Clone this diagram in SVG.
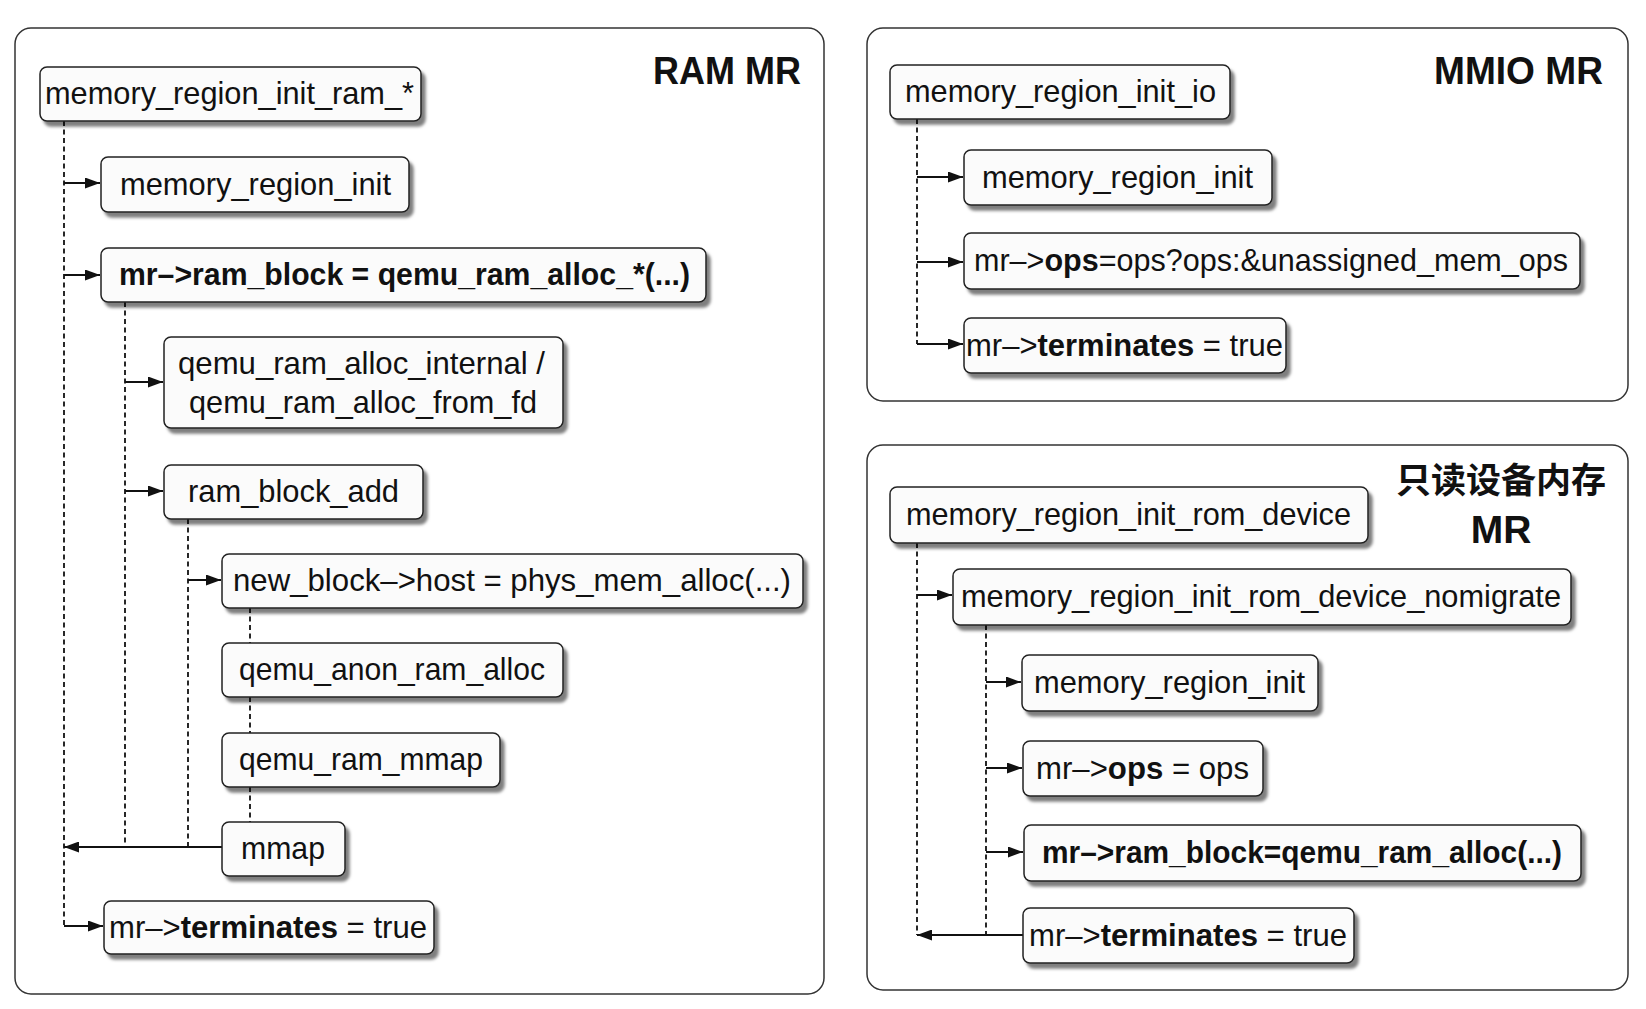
<svg xmlns="http://www.w3.org/2000/svg" width="1646" height="1009" viewBox="0 0 1646 1009">
<style>
.panel{fill:#ffffff;stroke:#333;stroke-width:1.5}
.box{fill:#fbfbfb;stroke:#222;stroke-width:1.5}
.t{font-family:"Liberation Sans",Arial,sans-serif;font-size:32px;fill:#111}
.b{font-weight:bold}
.title{font-family:"Liberation Sans",Arial,sans-serif;font-size:39px;font-weight:bold;fill:#111}
.cjk{font-family:"Liberation Sans","Noto Sans CJK SC",sans-serif;font-size:35px;font-weight:bold;fill:#111}
.dash{fill:none;stroke:#111;stroke-width:1.8;stroke-dasharray:5 3.5}
.arr{fill:none;stroke:#111;stroke-width:2.2;marker-end:url(#ah)}
</style>
<defs>
<marker id="ah" viewBox="0 0 15 11" refX="15" refY="5.5" markerWidth="15" markerHeight="11" markerUnits="userSpaceOnUse" orient="auto">
<path d="M0,0 L15,5.5 L0,11 z" fill="#111"/>
</marker>
<filter id="sh" x="-5%" y="-15%" width="115%" height="145%">
<feDropShadow dx="4" dy="5" stdDeviation="1.8" flood-color="#000" flood-opacity="0.5"/>
</filter>
</defs>
<rect width="1646" height="1009" fill="#ffffff"/>

<g id="panel-ram">
<rect class="panel" x="15" y="28" width="809" height="966" rx="16"/>
<text class="title" x="653" y="84" textLength="148" lengthAdjust="spacingAndGlyphs">RAM MR</text>
</g>
<g id="panel-mmio">
<rect class="panel" x="867" y="28" width="761" height="373" rx="16"/>
<text class="title" x="1434" y="84" textLength="169" lengthAdjust="spacingAndGlyphs">MMIO MR</text>
</g>
<g id="panel-rom">
<rect class="panel" x="867" y="445" width="761" height="545" rx="16"/>
<text class="cjk" x="1396" y="493" textLength="210" lengthAdjust="spacingAndGlyphs">只读设备内存</text>
<text class="title" x="1501" y="543" text-anchor="middle">MR</text>
</g>

<g id="connectors">
<!-- RAM -->
<path class="dash" d="M64,121 V926"/>
<path class="arr" d="M64,183 H100"/>
<path class="arr" d="M64,275 H100"/>
<path class="arr" d="M64,926 H103"/>
<path class="dash" d="M125,302 V847"/>
<path class="arr" d="M125,382 H163"/>
<path class="arr" d="M125,491 H163"/>
<path class="dash" d="M188,519 V847"/>
<path class="arr" d="M188,580 H221"/>
<path class="dash" d="M250,608 V643 M250,697 V733 M250,787 V822"/>
<path class="arr" d="M222,847 H64"/>
<!-- MMIO -->
<path class="dash" d="M917,119 V344"/>
<path class="arr" d="M917,177 H963"/>
<path class="arr" d="M917,262 H963"/>
<path class="arr" d="M917,344 H963"/>
<!-- ROM -->
<path class="dash" d="M917,543 V935"/>
<path class="arr" d="M917,595 H952"/>
<path class="dash" d="M986,625 V935"/>
<path class="arr" d="M986,682 H1021"/>
<path class="arr" d="M986,768 H1022"/>
<path class="arr" d="M986,852 H1023"/>
<path class="arr" d="M1023,935 H917"/>
</g>

<g id="n-init-ram"><rect class="box" filter="url(#sh)" x="40" y="67" width="381" height="54" rx="7"/><text class="t" x="45" y="104" textLength="369" lengthAdjust="spacingAndGlyphs">memory_region_init_ram_*</text></g>
<g id="n-ram-init"><rect class="box" filter="url(#sh)" x="101" y="157" width="308" height="55" rx="7"/><text class="t" x="120" y="195" textLength="271" lengthAdjust="spacingAndGlyphs">memory_region_init</text></g>
<g id="n-ram-block"><rect class="box" filter="url(#sh)" x="101" y="248" width="605" height="54" rx="7"/><text class="t b" x="119" y="285" textLength="571" lengthAdjust="spacingAndGlyphs">mr–&gt;ram_block = qemu_ram_alloc_*(...)</text></g>
<g id="n-alloc-internal"><rect class="box" filter="url(#sh)" x="164" y="337" width="399" height="91" rx="7"/><text class="t" x="178" y="374" textLength="367" lengthAdjust="spacingAndGlyphs">qemu_ram_alloc_internal /</text><text class="t" x="189" y="413" textLength="348" lengthAdjust="spacingAndGlyphs">qemu_ram_alloc_from_fd</text></g>
<g id="n-block-add"><rect class="box" filter="url(#sh)" x="164" y="465" width="259" height="54" rx="7"/><text class="t" x="188" y="502" textLength="211" lengthAdjust="spacingAndGlyphs">ram_block_add</text></g>
<g id="n-host"><rect class="box" filter="url(#sh)" x="222" y="554" width="581" height="54" rx="7"/><text class="t" x="233" y="591" textLength="558" lengthAdjust="spacingAndGlyphs">new_block–&gt;host = phys_mem_alloc(...)</text></g>
<g id="n-anon"><rect class="box" filter="url(#sh)" x="222" y="643" width="341" height="54" rx="7"/><text class="t" x="239" y="680" textLength="306" lengthAdjust="spacingAndGlyphs">qemu_anon_ram_alloc</text></g>
<g id="n-ram-mmap"><rect class="box" filter="url(#sh)" x="222" y="733" width="278" height="54" rx="7"/><text class="t" x="239" y="770" textLength="244" lengthAdjust="spacingAndGlyphs">qemu_ram_mmap</text></g>
<g id="n-mmap"><rect class="box" filter="url(#sh)" x="222" y="822" width="123" height="54" rx="7"/><text class="t" x="241" y="859" textLength="84" lengthAdjust="spacingAndGlyphs">mmap</text></g>
<g id="n-ram-term"><rect class="box" filter="url(#sh)" x="104" y="901" width="330" height="53" rx="7"/><text class="t" x="109" y="938" textLength="318" lengthAdjust="spacingAndGlyphs">mr–&gt;<tspan class="b">terminates</tspan> = true</text></g>

<g id="n-init-io"><rect class="box" filter="url(#sh)" x="890" y="65" width="340" height="54" rx="7"/><text class="t" x="905" y="102" textLength="311" lengthAdjust="spacingAndGlyphs">memory_region_init_io</text></g>
<g id="n-io-init"><rect class="box" filter="url(#sh)" x="964" y="150" width="308" height="55" rx="7"/><text class="t" x="982" y="188" textLength="271" lengthAdjust="spacingAndGlyphs">memory_region_init</text></g>
<g id="n-io-ops"><rect class="box" filter="url(#sh)" x="964" y="233" width="616" height="56" rx="7"/><text class="t" x="974" y="271" textLength="594" lengthAdjust="spacingAndGlyphs">mr–&gt;<tspan class="b">ops</tspan>=ops?ops:&amp;unassigned_mem_ops</text></g>
<g id="n-io-term"><rect class="box" filter="url(#sh)" x="964" y="318" width="322" height="55" rx="7"/><text class="t" x="966" y="356" textLength="317" lengthAdjust="spacingAndGlyphs">mr–&gt;<tspan class="b">terminates</tspan> = true</text></g>

<g id="n-rom-device"><rect class="box" filter="url(#sh)" x="890" y="487" width="478" height="56" rx="7"/><text class="t" x="906" y="525" textLength="445" lengthAdjust="spacingAndGlyphs">memory_region_init_rom_device</text></g>
<g id="n-rom-nomigrate"><rect class="box" filter="url(#sh)" x="953" y="569" width="618" height="56" rx="7"/><text class="t" x="961" y="607" textLength="600" lengthAdjust="spacingAndGlyphs">memory_region_init_rom_device_nomigrate</text></g>
<g id="n-rom-init"><rect class="box" filter="url(#sh)" x="1022" y="655" width="296" height="56" rx="7"/><text class="t" x="1034" y="693" textLength="271" lengthAdjust="spacingAndGlyphs">memory_region_init</text></g>
<g id="n-rom-ops"><rect class="box" filter="url(#sh)" x="1023" y="741" width="240" height="55" rx="7"/><text class="t" x="1036" y="779" textLength="213" lengthAdjust="spacingAndGlyphs">mr–&gt;<tspan class="b">ops</tspan> = ops</text></g>
<g id="n-rom-block"><rect class="box" filter="url(#sh)" x="1024" y="825" width="557" height="56" rx="7"/><text class="t b" x="1042" y="863" textLength="520" lengthAdjust="spacingAndGlyphs">mr–&gt;ram_block=qemu_ram_alloc(...)</text></g>
<g id="n-rom-term"><rect class="box" filter="url(#sh)" x="1023" y="908" width="331" height="55" rx="7"/><text class="t" x="1029" y="946" textLength="318" lengthAdjust="spacingAndGlyphs">mr–&gt;<tspan class="b">terminates</tspan> = true</text></g>
</svg>
